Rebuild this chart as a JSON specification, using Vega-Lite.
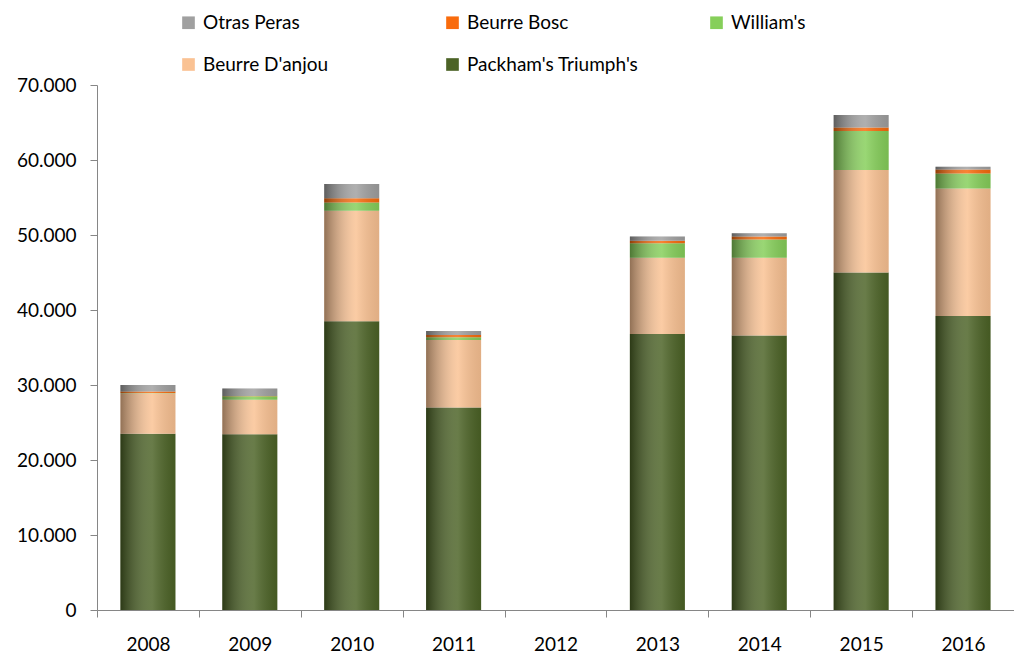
{
  "$schema": "https://vega.github.io/schema/vega-lite/v6.json",
  "autosize": {"type": "none"},
  "width": 917,
  "height": 525,
  "padding": {"left": 97, "top": 85, "right": 0, "bottom": 47},
  "background": "white",
  "config": {"view": {"stroke": null}, "font": "Lato"},
  "data": {
    "values": [
      {"anio": "2008", "variedad": "Packham's Triumph's", "valor": 23500},
      {"anio": "2008", "variedad": "Beurre D'anjou", "valor": 5400},
      {"anio": "2008", "variedad": "William's", "valor": 50},
      {"anio": "2008", "variedad": "Beurre Bosc", "valor": 200},
      {"anio": "2008", "variedad": "Otras Peras", "valor": 850},
      {"anio": "2009", "variedad": "Packham's Triumph's", "valor": 23450},
      {"anio": "2009", "variedad": "Beurre D'anjou", "valor": 4600},
      {"anio": "2009", "variedad": "William's", "valor": 450},
      {"anio": "2009", "variedad": "Beurre Bosc", "valor": 50},
      {"anio": "2009", "variedad": "Otras Peras", "valor": 1000},
      {"anio": "2010", "variedad": "Packham's Triumph's", "valor": 38500},
      {"anio": "2010", "variedad": "Beurre D'anjou", "valor": 14750},
      {"anio": "2010", "variedad": "William's", "valor": 1100},
      {"anio": "2010", "variedad": "Beurre Bosc", "valor": 550},
      {"anio": "2010", "variedad": "Otras Peras", "valor": 1900},
      {"anio": "2011", "variedad": "Packham's Triumph's", "valor": 27000},
      {"anio": "2011", "variedad": "Beurre D'anjou", "valor": 9000},
      {"anio": "2011", "variedad": "William's", "valor": 360},
      {"anio": "2011", "variedad": "Beurre Bosc", "valor": 300},
      {"anio": "2011", "variedad": "Otras Peras", "valor": 550},
      {"anio": "2013", "variedad": "Packham's Triumph's", "valor": 36800},
      {"anio": "2013", "variedad": "Beurre D'anjou", "valor": 10170},
      {"anio": "2013", "variedad": "William's", "valor": 1930},
      {"anio": "2013", "variedad": "Beurre Bosc", "valor": 350},
      {"anio": "2013", "variedad": "Otras Peras", "valor": 550},
      {"anio": "2014", "variedad": "Packham's Triumph's", "valor": 36600},
      {"anio": "2014", "variedad": "Beurre D'anjou", "valor": 10370},
      {"anio": "2014", "variedad": "William's", "valor": 2430},
      {"anio": "2014", "variedad": "Beurre Bosc", "valor": 400},
      {"anio": "2014", "variedad": "Otras Peras", "valor": 450},
      {"anio": "2015", "variedad": "Packham's Triumph's", "valor": 45000},
      {"anio": "2015", "variedad": "Beurre D'anjou", "valor": 13670},
      {"anio": "2015", "variedad": "William's", "valor": 5200},
      {"anio": "2015", "variedad": "Beurre Bosc", "valor": 480},
      {"anio": "2015", "variedad": "Otras Peras", "valor": 1650},
      {"anio": "2016", "variedad": "Packham's Triumph's", "valor": 39200},
      {"anio": "2016", "variedad": "Beurre D'anjou", "valor": 17000},
      {"anio": "2016", "variedad": "William's", "valor": 2000},
      {"anio": "2016", "variedad": "Beurre Bosc", "valor": 550},
      {"anio": "2016", "variedad": "Otras Peras", "valor": 350}
    ]
  },
  "transform": [
    {"calculate": "indexof(['Packham\\'s Triumph\\'s', 'Beurre D\\'anjou', 'William\\'s', 'Beurre Bosc', 'Otras Peras'], datum.variedad)", "as": "orden"}
  ],
  "encoding": {
    "x": {
      "field": "anio",
      "type": "nominal",
      "scale": {"domain": ["2008", "2009", "2010", "2011", "2012", "2013", "2014", "2015", "2016"], "paddingInner": 0, "paddingOuter": 0},
      "axis": {
        "title": null,
        "labelAngle": 0,
        "tickBand": "extent",
        "domainColor": "#868686",
        "tickColor": "#868686",
        "tickSize": 7,
        "labelPadding": 18,
        "labelFontSize": 19,
        "labelColor": "#000000",
        "grid": false
      }
    },
    "y": {
      "field": "valor",
      "type": "quantitative",
      "stack": "zero",
      "scale": {"domain": [0, 70000], "nice": false},
      "axis": {
        "title": null,
        "values": [0, 10000, 20000, 30000, 40000, 50000, 60000, 70000],
        "labelExpr": "replace(format(datum.value, ','), ',', '.')",
        "domainColor": "#868686",
        "tickColor": "#868686",
        "tickSize": 7,
        "labelPadding": 14,
        "labelFontSize": 19,
        "labelColor": "#000000",
        "grid": false
      }
    },
    "order": {"field": "orden", "type": "quantitative", "sort": "ascending"}
  },
  "layer": [
    {
      "mark": {"type": "bar", "width": {"band": 0.54}},
      "encoding": {
        "color": {
          "field": "variedad",
          "type": "nominal",
          "scale": {
            "domain": ["Otras Peras", "Beurre Bosc", "William's", "Beurre D'anjou", "Packham's Triumph's"],
            "range": ["#a0a0a0", "#f96b0c", "#86cf5a", "#fac293", "#4c6326"]
          },
          "legend": {
            "title": null,
            "orient": "none",
            "legendX": 82,
            "legendY": -72,
            "direction": "horizontal",
            "columns": 3,
            "gridAlign": "all",
            "columnPadding": 68,
            "rowPadding": 22,
            "symbolType": "square",
            "symbolSize": 160,
            "symbolStrokeWidth": 0,
            "symbolOpacity": 1,
            "labelFontSize": 19,
            "labelColor": "#000000",
            "labelOffset": 5,
            "labelLimit": 400
          }
        }
      }
    },
    {
      "mark": {
        "type": "bar",
        "width": {"band": 0.54},
        "color": {
          "gradient": "linear",
          "x1": 0, "x2": 1, "y1": 0, "y2": 0,
          "stops": [
            {"offset": 0, "color": "rgba(0,0,0,0.42)"},
            {"offset": 0.58, "color": "rgba(255,255,255,0.16)"},
            {"offset": 1, "color": "rgba(0,0,0,0.1)"}
          ]
        }
      }
    }
  ]
}
